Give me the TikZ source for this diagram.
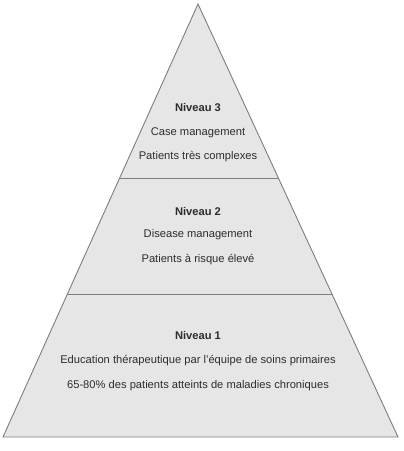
\documentclass[tikz,border=0pt]{standalone}
\usepackage{fontspec}
\setmainfont{Liberation Sans}
\usetikzlibrary{calc}
\definecolor{pyrfill}{RGB}{230, 230, 230}
\definecolor{pyrline}{RGB}{125, 125, 125}
\definecolor{pyrtext}{RGB}{45, 45, 45}

\begin{document}
\begin{tikzpicture}[x=1bp, y=-1bp,
  lvltext/.style={pyrtext, inner sep=0pt, font=\fontsize{11.2}{13}\selectfont},
  lvltitle/.style={lvltext, font=\fontsize{11.2}{13}\selectfont\bfseries}]

  \useasboundingbox (0,0) rectangle (403,451);

  % corners of the pyramid
  \coordinate (apex) at (198,4);
  \coordinate (baseleft) at (3,437);
  \coordinate (baseright) at (398,437);

  % pyramid
  \draw[pyrline, fill=pyrfill, line width=0.9pt] (apex) -- (baseright) -- (baseleft) -- cycle;

  % borders between the levels
  \draw[pyrline, line width=1.1pt] ($(apex)!0.402!(baseleft)$) -- ($(apex)!0.402!(baseright)$);
  \draw[pyrline, line width=1.1pt] ($(apex)!0.670!(baseleft)$) -- ($(apex)!0.670!(baseright)$);

  % level 3
  \node[lvltitle] (niv3) at (198,108) {Niveau 3};
  \node[lvltext] (niv3a) at (198,133) {Case management};
  \node[lvltext] (niv3b) at (198,157) {Patients très complexes};

  % level 2
  \node[lvltitle] (niv2) at (198,212) {Niveau 2};
  \node[lvltext] (niv2a) at (198,235) {Disease management};
  \node[lvltext] (niv2b) at (198,260) {Patients à risque élevé};

  % level 1
  \node[lvltitle] (niv1) at (198,336) {Niveau 1};
  \node[lvltext] (niv1a) at (198,361) {Education thérapeutique par l'équipe de soins primaires};
  \node[lvltext] (niv1b) at (198,386) {65-80\% des patients atteints de maladies chroniques};

\end{tikzpicture}
\end{document}
